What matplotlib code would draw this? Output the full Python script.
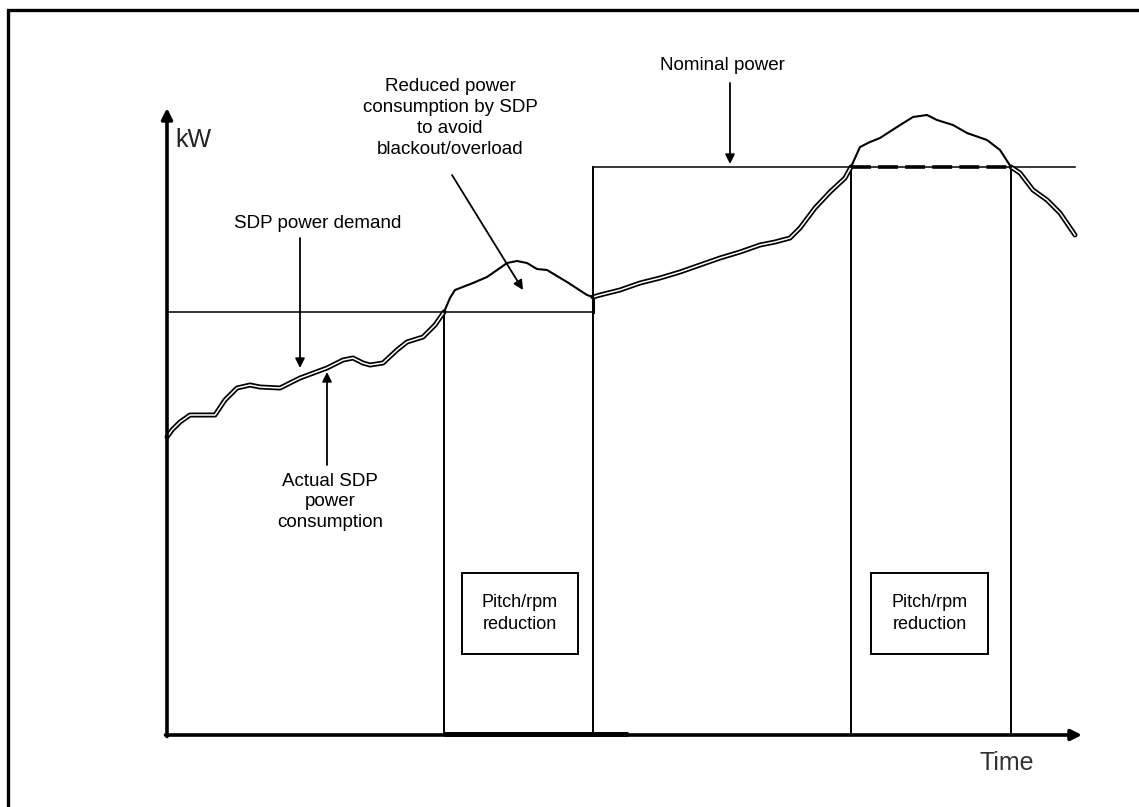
import numpy as np
import matplotlib
matplotlib.use("Agg")
import matplotlib.pyplot as plt
from matplotlib.patches import Rectangle

plt.rcParams['font.family'] = ['Liberation Sans', 'DejaVu Sans']

# time axis and SDP power demand (arbitrary units, origin at the axes corner)
t = [0, 5, 13, 23, 48, 58, 70, 83, 93, 113, 133, 160, 176, 186, 196, 203, 216,
     230, 240, 256, 268, 277, 283, 288, 306, 320, 333, 340, 350, 360, 370, 380,
     400, 420, 426, 433, 453, 473, 493, 513, 533, 553, 573, 593, 608, 623, 633,
     648, 663, 678, 684, 693, 703, 713, 730, 746, 760, 770, 786, 800, 820, 833,
     844, 853, 866, 880, 893, 908]
demand = [298, 305, 313, 320, 320, 335, 347, 350, 348, 347, 357, 367, 375, 377,
          372, 370, 372, 385, 393, 398, 410, 423, 437, 445, 452, 458, 467, 472,
          474, 472, 466, 465, 453, 440, 438, 440, 445, 452, 457, 463, 470, 477,
          483, 490, 493, 497, 507, 527, 543, 557, 568, 588, 593, 597, 608, 618,
          620, 615, 610, 602, 595, 585, 568, 562, 545, 535, 522, 500]

# power limits
t_switch = 426
sdp_limit = 423
nominal = 568
t_end_nominal = 908
# pitch/rpm reduction periods
reduce1 = (277, 426)
reduce2 = (684, 844)
x_max, y_max = 915, 627

t = np.array(t, dtype=float)
demand = np.array(demand, dtype=float)
cap_left = np.where(t <= t_switch, sdp_limit, nominal)
cap_right = np.where(t < t_switch, sdp_limit, nominal)
over = np.where(demand >= cap_left, demand, np.nan)
ok = np.where(demand <= cap_right, demand, np.nan)

fig = plt.figure(figsize=(11.39, 8.07), dpi=100)
ax = fig.add_axes([0, 0, 1, 1])
ax.set_xlim(-167, 972)
ax.set_ylim(-72, 735)
ax.axis('off')

# outer frame (open to the right and bottom)
fig.patches.append(Rectangle((8 / 1139, -0.1), 2, 0.9876 + 0.1, transform=fig.transFigure,
                             fill=False, lw=2.4, edgecolor='black'))

# axes with arrows
arrow_kw = dict(arrowstyle='-|>', color='black', lw=2.6, mutation_scale=16, shrinkA=0, shrinkB=0)
ax.annotate('', xy=(0, y_max), xytext=(0, -1.5), arrowprops=arrow_kw)
ax.annotate('', xy=(x_max, 0), xytext=(-1.5, 0), arrowprops=arrow_kw)

# limit lines and reduction periods
ax.plot([0, t_switch], [sdp_limit, sdp_limit], color='black', lw=1.1)
ax.plot([t_switch, t_end_nominal], [nominal, nominal], color='black', lw=1.1)
ax.plot([reduce1[0], reduce1[0]], [0, sdp_limit], color='black', lw=1.4)
ax.plot([t_switch, t_switch], [0, nominal], color='black', lw=1.4)
ax.plot([reduce2[0], reduce2[0]], [0, nominal], color='black', lw=1.4)
ax.plot([reduce2[1], reduce2[1]], [0, nominal], color='black', lw=1.4)
ax.plot([reduce2[0], reduce2[1]], [nominal, nominal], color='black', lw=2.6,
        linestyle=(0, (5.5, 2)))
ax.plot([reduce1[0], 461], [1.5, 1.5], color='black', lw=3.6, solid_capstyle='butt')
# consumption jumps back to demand when the limit is raised
ax.plot([t_switch, t_switch], [sdp_limit, demand[t == t_switch][0]], color='black', lw=2.2)

# demand curve: double where consumption follows demand, single where demand is cut
ax.plot(t, ok, color='black', lw=3.6, solid_capstyle='round')
ax.plot(t, ok, color='white', lw=1.1)
ax.plot(t, over, color='black', lw=1.5)

# pitch/rpm boxes
for x0, x1 in [(295, 411), (704, 821)]:
    ax.add_patch(Rectangle((x0, 81), x1 - x0, 81, fill=False, lw=1.4, edgecolor='black'))
    ax.text((x0 + x1) / 2, 121.5, 'Pitch/rpm\nreduction', ha='center', va='center',
            fontsize=13, linespacing=1.35)

# annotations
ann_kw = dict(arrowstyle='-|>', color='black', lw=1.3, mutation_scale=14, shrinkA=0, shrinkB=0)
ax.text(151, 512, 'SDP power demand', ha='center', va='center', fontsize=13.5)
ax.annotate('', xy=(133, 367), xytext=(133, 497), arrowprops=ann_kw)
ax.text(163, 233, 'Actual SDP\npower\nconsumption', ha='center', va='center',
        fontsize=13.5, linespacing=1.3)
ax.annotate('', xy=(160, 363), xytext=(160, 270), arrowprops=ann_kw)
ax.text(283, 617, 'Reduced power\nconsumption by SDP\nto avoid\nblackout/overload',
        ha='center', va='center', fontsize=13.5, linespacing=1.3)
ax.annotate('', xy=(356, 445), xytext=(285, 560), arrowprops=ann_kw)
ax.text(555, 669, 'Nominal power', ha='center', va='center', fontsize=13.5)
ax.annotate('', xy=(563, 571), xytext=(563, 652), arrowprops=ann_kw)
ax.text(26, 595, 'kW', ha='center', va='center', fontsize=18, color='#222222')
ax.text(840, -28, 'Time', ha='center', va='center', fontsize=18, color='#333333')

fig.savefig('out.png', dpi=100, facecolor='white')
